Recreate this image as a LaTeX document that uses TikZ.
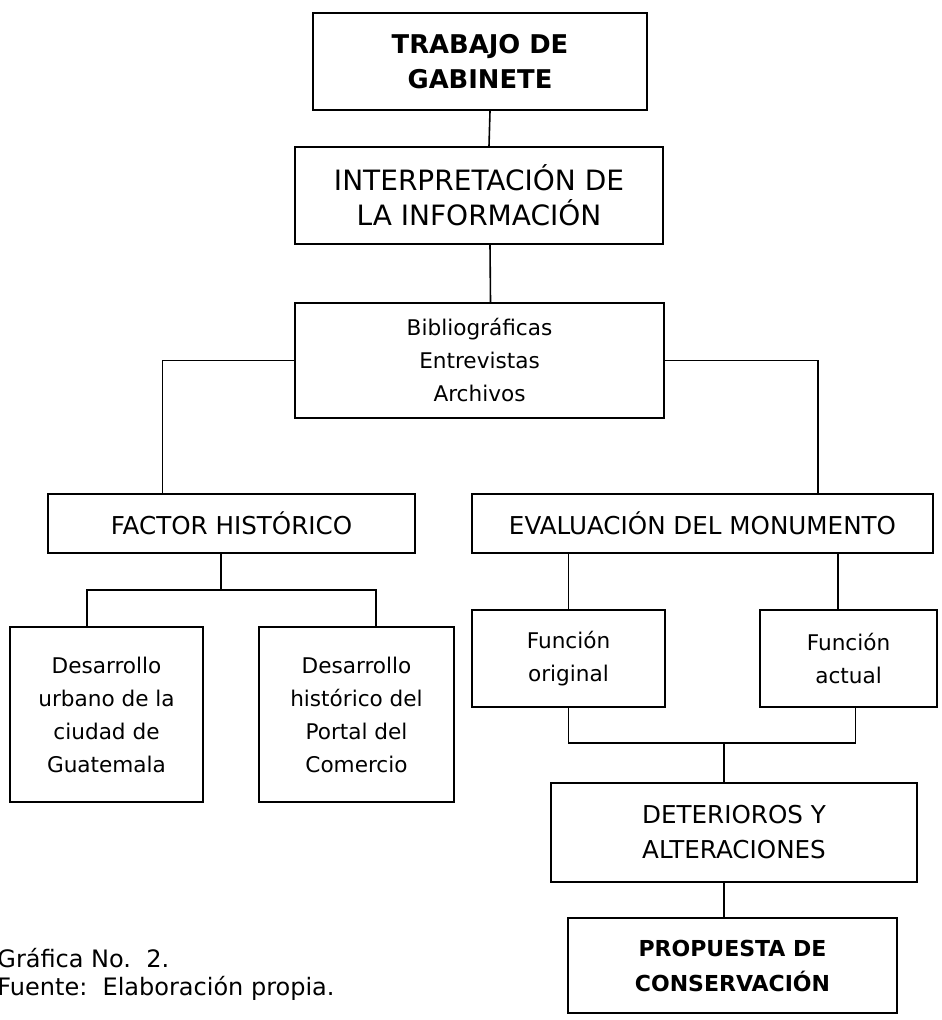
\documentclass[tikz,border=0pt]{standalone}
\usepackage{fontspec}
\setmainfont{DejaVu Sans}
\usetikzlibrary{calc,positioning}

\tikzset{
  caja/.style={draw, line width=1pt, align=center, inner sep=2pt,
    font=\fontsize{10.8}{16.5}\selectfont},
  cajamay/.style={caja, font=\fontsize{12.3}{17.5}\selectfont},
  linea/.style={line width=0.8pt},
}

\begin{document}
\begin{tikzpicture}[x=0.5pt,y=-0.5pt]
\useasboundingbox (0,0) rectangle (941,1020);

% cabeza del esquema
\node[cajamay, font=\fontsize{12.9}{17.5}\selectfont, minimum width=167pt, minimum height=48.5pt] (trabajo) at (480,61.5) {\textbf{TRABAJO DE}\\\textbf{GABINETE}};
\node[cajamay, font=\fontsize{14}{17.5}\selectfont, minimum width=184pt, minimum height=48.5pt] (interp) at (479,195.5) {INTERPRETACIÓN DE\\LA INFORMACIÓN};
\node[caja, minimum width=184.5pt, minimum height=57.5pt] (fuentes) at (479.5,360.5) {Bibliográficas\\Entrevistas\\Archivos};

% segundo nivel
\node[cajamay, minimum width=183.5pt, minimum height=29.5pt] (factor) at (231.5,523.5) {FACTOR HISTÓRICO};
\node[cajamay, minimum width=230.5pt, minimum height=29.5pt] (evalua) at (702.5,523.5) {EVALUACIÓN DEL MONUMENTO};

% factor historico
\node[caja, minimum width=96.5pt, minimum height=87.5pt] (durbano) at (106.5,714.5) {Desarrollo\\urbano de la\\ciudad de\\Guatemala};
\node[caja, minimum width=97.5pt, minimum height=87.5pt] (dhist) at (356.5,714.5) {Desarrollo\\histórico del\\Portal del\\Comercio};

% evaluacion del monumento
\node[caja, minimum width=96.5pt, minimum height=48.5pt] (foriginal) at (568.5,658.5) {Función\\original};
\node[caja, minimum width=88.5pt, minimum height=48.5pt] (factual) at (848.5,658.5) {Función\\actual};
\node[cajamay, minimum width=183pt, minimum height=49.5pt] (deterioros) at (734,832.5) {DETERIOROS Y\\ALTERACIONES};
\node[cajamay, font=\fontsize{11}{17.5}\selectfont, minimum width=164.5pt, minimum height=47.5pt] (propuesta) at (732.5,965.5) {\textbf{PROPUESTA DE}\\\textbf{CONSERVACIÓN}};

% pie
\node[anchor=base west, inner sep=0pt, font=\fontsize{12}{14}\selectfont] (grafica) at (-3,967) {Gráfica No.\ \ 2.};
\node[anchor=base west, inner sep=0pt, font=\fontsize{12}{14}\selectfont] (fuente) at (-3,995) {Fuente:\ \ Elaboración propia.};

% tronco central
\draw[linea] ([xshift=5pt]trabajo.south) -- ([xshift=5pt]interp.north);
\draw[linea] ([xshift=5.5pt]interp.south) -- ([xshift=5.5pt]fuentes.north);

% ramas principales
\draw[linea] (fuentes.west) -| ($(factor.north west)!0.313!(factor.north east)$);
\draw[linea] (fuentes.east) -| ($(evalua.north west)!0.75!(evalua.north east)$);

% bajo factor historico
\coordinate (rama1) at (221,590);
\draw[linea] (rama1 |- factor.south) -- (rama1);
\draw[linea] ($(durbano.north west)!0.4!(durbano.north east)$) |- (rama1) -| ($(dhist.north west)!0.6!(dhist.north east)$);

% bajo evaluacion
\coordinate (fa) at ($(factual.north west)!0.44!(factual.north east)$);
\draw[linea] (foriginal.north) -- (foriginal.north |- evalua.south);
\draw[linea] (fa) -- (fa |- evalua.south);

% funciones a deterioros y propuesta
\coordinate (rama2) at (724,743);
\draw[linea] (foriginal.south) |- (rama2) -| ($(factual.south west)!0.54!(factual.south east)$);
\draw[linea] (rama2) -- (rama2 |- deterioros.north);
\draw[linea] (rama2 |- deterioros.south) -- (rama2 |- propuesta.north);

\end{tikzpicture}
\end{document}
